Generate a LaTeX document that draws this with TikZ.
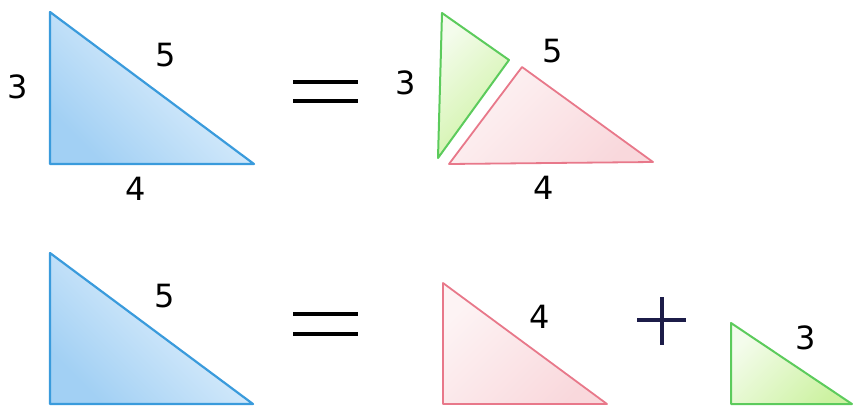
\documentclass[tikz,border=0pt]{standalone}
\usepackage{fontspec}
\setmainfont{DejaVu Sans}
\usepackage{tikz}
\usetikzlibrary{shapes.geometric}
\definecolor{blueline}{HTML}{3A9BDC}
\definecolor{bluelight}{HTML}{EEF7FE}
\definecolor{bluedark}{HTML}{A2D0F4}
\definecolor{pinkline}{HTML}{E8788A}
\definecolor{pinklight}{HTML}{FDF3F4}
\definecolor{pinkdark}{HTML}{F9D8DC}
\definecolor{greenline}{HTML}{5CCB5C}
\definecolor{greenlight}{HTML}{F4FCEC}
\definecolor{greendark}{HTML}{CDF2A2}
\definecolor{plusnavy}{HTML}{1C1C48}
\tikzstyle{bluetri} = [draw=blueline,
					line width=2.2pt,
					line join=round,
					top color=bluelight,
					bottom color=bluedark,
					shading angle=-45,
					]
\tikzstyle{pinktri} = [draw=pinkline,
					line width=1.8pt,
					line join=round,
					top color=pinklight,
					bottom color=pinkdark,
					shading angle=45,
					]
\tikzstyle{greentri} = [draw=greenline,
					line width=2pt,
					line join=round,
					top color=greenlight,
					bottom color=greendark,
					shading angle=45,
					]
\tikzstyle{sidelabel} = [font=\fontsize{32}{36}\selectfont, inner sep=0pt]
\tikzstyle{eqbar} = [line width=4.5pt, black]
\tikzstyle{plusbar} = [line width=3.5pt, plusnavy]

\begin{document}
\begin{tikzpicture}[x=1pt,y=-1pt]
\useasboundingbox (0,0) rectangle (866,418);

% top row
\shade[bluetri] (50,12) -- (50,164) -- (254,164) -- cycle;
\node (topBlueA) [sidelabel] at (18,87) {3};
\node (topBlueC) [sidelabel] at (166,55) {5};
\node (topBlueB) [sidelabel] at (136,189) {4};

\draw[eqbar] (293,82) -- (358,82);
\draw[eqbar] (293,101) -- (358,101);

\shade[greentri] (442,13) -- (509,60) -- (438,158) -- cycle;
\shade[pinktri] (522,67) -- (449,164) -- (653,162) -- cycle;
\node (topGreen) [sidelabel] at (406,83) {3};
\node (topHyp) [sidelabel] at (553,51) {5};
\node (topPink) [sidelabel] at (544,188) {4};

% bottom row
\shade[bluetri] (50,253) -- (50,404) -- (253,404) -- cycle;
\node (botBlue) [sidelabel] at (165,296) {5};

\draw[eqbar] (293,314) -- (358,314);
\draw[eqbar] (293,334) -- (358,334);

\shade[pinktri] (443,283) -- (443,404) -- (607,404) -- cycle;
\node (botPink) [sidelabel] at (540,317) {4};

\draw[plusbar] (637,320) -- (686,320);
\draw[plusbar] (662,297) -- (662,345);

\shade[greentri] (731,323) -- (731,404) -- (852,404) -- cycle;
\node (botGreen) [sidelabel] at (806,338) {3};

\end{tikzpicture}
\end{document}
